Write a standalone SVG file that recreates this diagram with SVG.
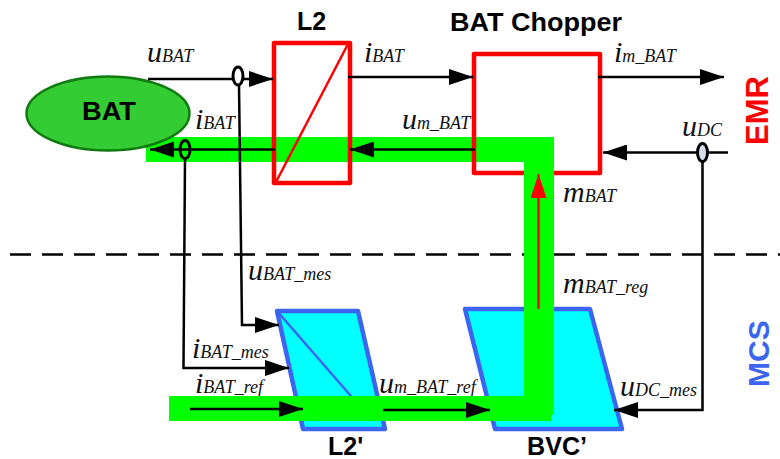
<svg xmlns="http://www.w3.org/2000/svg" width="780" height="459" viewBox="0 0 780 459">
<defs>
<marker id="ah" markerUnits="userSpaceOnUse" markerWidth="24" markerHeight="16" refX="24" refY="8" orient="auto"><path d="M0 0L24 8L0 16Z" fill="#000"/></marker>
<marker id="ahr" markerUnits="userSpaceOnUse" markerWidth="24" markerHeight="16" refX="24" refY="8" orient="auto"><path d="M0 0L24 8L0 16Z" fill="#f00"/></marker>
</defs>
<style>
.t{font-family:"Liberation Sans",Arial,sans-serif;font-weight:bold;fill:#000}
.v{font-family:"Liberation Serif","Times New Roman",serif;font-style:italic;fill:#111;font-size:18px}
.b{font-size:30px}
.a{fill:none;stroke:#000;stroke-width:2.5;marker-end:url(#ah)}
.band{fill:#0f0}
.r{fill:none;stroke:#f00;stroke-width:4.5;stroke-linejoin:round}
.m{fill:#0ff;stroke:#3c64f0;stroke-width:4.5;stroke-linejoin:round}
.o{fill:none;stroke:#000;stroke-width:3}
</style>
<path id="divider" d="M10 254.500H780" fill="none" stroke="#000" stroke-width="2.500" stroke-dasharray="21 11"/>
<g id="node-l2p"><path class="m" d="M277 311H358L385 429H303Z"/><path d="M277 311L357 403" fill="none" stroke="#3c64f0" stroke-width="2.500"/><text class="t" x="328" y="455" font-size="25">L2'</text></g>
<g id="node-bvc"><path class="m" d="M465 309H590L622 429H495Z"/><text class="t" x="527" y="455" font-size="25" textLength="60" lengthAdjust="spacingAndGlyphs">BVC’</text></g>
<g id="ref-labels">
<text class="v" x="195" y="393"><tspan class="b">i</tspan>BAT_ref</text>
<text class="v" x="379" y="393"><tspan class="b">u</tspan>m_BAT_ref</text>
</g>
<g id="bands"><path class="band" d="M146 137H554V162H146Z"/><path class="band" d="M524 137H554V415H551V421H169V396H524Z"/></g>
<g id="node-chopper"><rect class="r" x="474" y="54" width="126" height="119"/><path class="band" d="M524 162H554V178H524Z"/><text class="t" x="450" y="31" font-size="25" textLength="172" lengthAdjust="spacingAndGlyphs">BAT Chopper</text></g>
<g id="node-bat"><ellipse cx="108" cy="113.500" rx="81.500" ry="37" fill="#33cc33" stroke="#117a11" stroke-width="2.500"/><text class="t" x="109" y="120" font-size="25" text-anchor="middle" textLength="54" lengthAdjust="spacingAndGlyphs">BAT</text></g>
<g id="node-l2"><rect class="r" x="274" y="43" width="76" height="140"/><path d="M276 182L348 44" stroke="#f00" stroke-width="2.500" fill="none"/><text class="t" x="297" y="30" font-size="25">L2</text></g>
<g id="connectors">
<path class="a" d="M148 79H273"/>
<path class="a" d="M239 84L242 325H279"/>
<path class="a" d="M348 77H473"/>
<path class="a" d="M598 77H724"/>
<path class="a" d="M275 149.500H150"/>
<path class="a" d="M475 149.500H350"/>
<path class="a" d="M728 152.500H603"/>
<path class="a" d="M185 158L183.500 368H289"/>
<path class="a" d="M702.500 162V410H614"/>
<path class="a" d="M190 409H303"/>
<path class="a" d="M383 410H490"/>
<path d="M538.500 309V174" fill="none" stroke="#f00" stroke-width="2.500" marker-end="url(#ahr)"/>
<ellipse class="o" cx="238" cy="76" rx="5" ry="9" style="fill:#fff"/>
<ellipse class="o" cx="185" cy="149.500" rx="5" ry="9"/>
<ellipse class="o" cx="702.500" cy="152.500" rx="5" ry="9" style="fill:#d8dcf0"/>
</g>
<g id="labels">
<text class="v" x="147" y="62"><tspan class="b">u</tspan>BAT</text>
<text class="v" x="195" y="129"><tspan class="b">i</tspan>BAT</text>
<text class="v" x="364" y="62"><tspan class="b">i</tspan>BAT</text>
<text class="v" x="402" y="129"><tspan class="b">u</tspan>m_BAT</text>
<text class="v" x="614" y="62"><tspan class="b">i</tspan>m_BAT</text>
<text class="v" x="682" y="136"><tspan class="b">u</tspan>DC</text>
<text class="v" x="563" y="202"><tspan class="b">m</tspan>BAT</text>
<text class="v" x="248" y="280"><tspan class="b">u</tspan>BAT_mes</text>
<text class="v" x="563" y="293"><tspan class="b">m</tspan>BAT_reg</text>
<text class="v" x="192" y="358"><tspan class="b">i</tspan>BAT_mes</text>
<text class="v" x="620" y="396"><tspan class="b">u</tspan>DC_mes</text>
<text class="t" font-size="31" style="fill:#f00" transform="translate(768 145) rotate(-90)">EMR</text>
<text class="t" font-size="30" style="fill:#3c64f0" transform="translate(769 387) rotate(-90)">MCS</text>
</g>
</svg>
